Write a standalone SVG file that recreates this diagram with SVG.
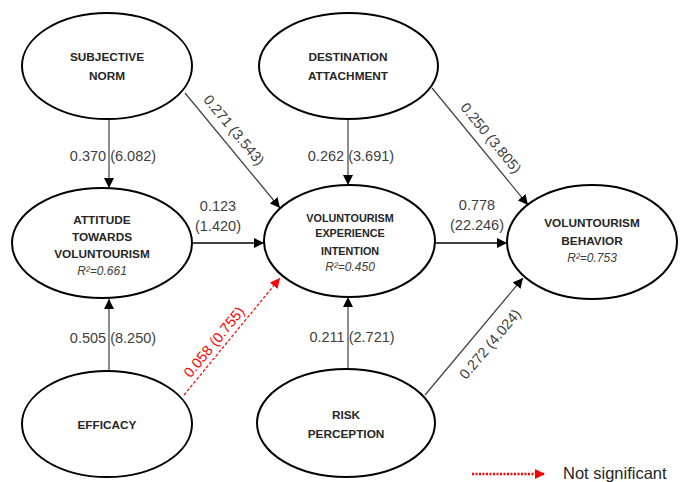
<svg xmlns="http://www.w3.org/2000/svg" width="680" height="482" viewBox="0 0 680 482">
<style>
.node ellipse{fill:#fff;stroke:#000;stroke-width:2}
.nt{font-family:"Liberation Sans",Arial,sans-serif;font-weight:bold;font-size:11.8px;fill:#262626;text-anchor:middle}
.nts{font-family:"Liberation Sans",Arial,sans-serif;font-weight:bold;font-size:10.8px;fill:#262626;text-anchor:middle}
.r2{font-family:"Liberation Sans",Arial,sans-serif;font-style:italic;font-size:12px;fill:#404040;text-anchor:middle}
.lbl{font-family:"Liberation Sans",Arial,sans-serif;font-size:14.5px;fill:#404040;text-anchor:middle}
.red{fill:#ff0000}
.c{stroke:#404040;stroke-width:1.2;fill:none}
.cb{stroke:#000;stroke-width:1.3;fill:none}
.ns{stroke:#ff0000;stroke-width:1.2;fill:none;stroke-dasharray:3,2}
</style>
<defs>
<marker id="ah" viewBox="0 0 10 10" refX="10" refY="5" markerWidth="10" markerHeight="10" markerUnits="userSpaceOnUse" orient="auto"><path d="M0,0 L10,5 L0,10 z" fill="#000"/></marker>
<marker id="ahr" viewBox="0 0 10 10" refX="10" refY="5" markerWidth="10" markerHeight="10" markerUnits="userSpaceOnUse" orient="auto"><path d="M0,0 L10,5 L0,10 z" fill="#ff0000"/></marker>
</defs>
<rect width="680" height="482" fill="#fff"/>
<g id="connectors">
<line class="c" x1="109" y1="119" x2="109" y2="188" marker-end="url(#ah)"/>
<line class="c" x1="348" y1="119" x2="348" y2="185" marker-end="url(#ah)"/>
<line class="c" x1="109" y1="371" x2="109" y2="299" marker-end="url(#ah)"/>
<line class="c" x1="348" y1="369" x2="348" y2="297" marker-end="url(#ah)"/>
<line class="cb" x1="193" y1="243" x2="264" y2="243" marker-end="url(#ah)"/>
<line class="cb" x1="435" y1="243" x2="507" y2="243" marker-end="url(#ah)"/>
<line class="c" x1="185" y1="93" x2="280" y2="208" marker-end="url(#ah)"/>
<line class="c" x1="432" y1="88" x2="528" y2="205" marker-end="url(#ah)"/>
<line class="c" x1="425" y1="395" x2="523" y2="278" marker-end="url(#ah)"/>
<line class="ns" x1="184" y1="395" x2="280" y2="278" marker-end="url(#ahr)"/>
<text class="lbl" x="113" y="161">0.370 (6.082)</text>
<text class="lbl" x="351" y="161">0.262 (3.691)</text>
<text class="lbl" x="113" y="343">0.505 (8.250)</text>
<text class="lbl" x="352" y="342">0.211 (2.721)</text>
<text class="lbl" x="218" y="211">0.123</text>
<text class="lbl" x="218" y="231">(1.420)</text>
<text class="lbl" x="477" y="210">0.778</text>
<text class="lbl" x="477" y="230">(22.246)</text>
<text class="lbl" x="234" y="135" transform="rotate(50.4 234 130)">0.271 (3.543)</text>
<text class="lbl" x="491" y="143" transform="rotate(50.6 491 138)">0.250 (3.805)</text>
<text class="lbl" x="490" y="349" transform="rotate(-50 490 344)">0.272 (4.024)</text>
<text class="lbl red" x="214" y="347" transform="rotate(-50.6 214 342)">0.058 (0.755)</text>
</g>
<g id="n-subjective-norm" class="node">
<ellipse cx="107" cy="66" rx="85" ry="53"/>
<text class="nt" x="107" y="61">SUBJECTIVE</text>
<text class="nt" x="107" y="80">NORM</text>
</g>
<g id="n-destination-attachment" class="node">
<ellipse cx="348.5" cy="66" rx="89.5" ry="53"/>
<text class="nt" x="348" y="61">DESTINATION</text>
<text class="nt" x="348" y="80">ATTACHMENT</text>
</g>
<g id="n-attitude" class="node">
<ellipse cx="102" cy="243" rx="90" ry="55"/>
<text class="nt" x="102" y="224">ATTITUDE</text>
<text class="nt" x="102" y="241">TOWARDS</text>
<text class="nt" x="102" y="258">VOLUNTOURISM</text>
<text class="r2" x="102" y="275">R²=0.661</text>
</g>
<g id="n-intention" class="node">
<ellipse cx="349.5" cy="241" rx="85.5" ry="56"/>
<text class="nts" x="350" y="222">VOLUNTOURISM</text>
<text class="nts" x="350" y="237">EXPERIENCE</text>
<text class="nts" x="350" y="255">INTENTION</text>
<text class="r2" x="350" y="271">R²=0.450</text>
</g>
<g id="n-behavior" class="node">
<ellipse cx="592" cy="242" rx="85" ry="57"/>
<text class="nt" x="592" y="227">VOLUNTOURISM</text>
<text class="nt" x="592" y="245">BEHAVIOR</text>
<text class="r2" x="592" y="262">R²=0.753</text>
</g>
<g id="n-efficacy" class="node">
<ellipse cx="107" cy="424" rx="85" ry="53"/>
<text class="nt" x="107" y="429">EFFICACY</text>
</g>
<g id="n-risk-perception" class="node">
<ellipse cx="346" cy="423" rx="89" ry="54"/>
<text class="nt" x="346" y="419">RISK</text>
<text class="nt" x="346" y="438">PERCEPTION</text>
</g>
<g id="legend">
<line x1="472" y1="474" x2="545" y2="474" stroke="#ff0000" stroke-width="2.5" stroke-dasharray="2,1.5" marker-end="url(#ahr)"/>
<text x="563" y="479" font-family="'Liberation Sans',Arial,sans-serif" font-size="16.5px" fill="#262626">Not significant</text>
</g>
</svg>
